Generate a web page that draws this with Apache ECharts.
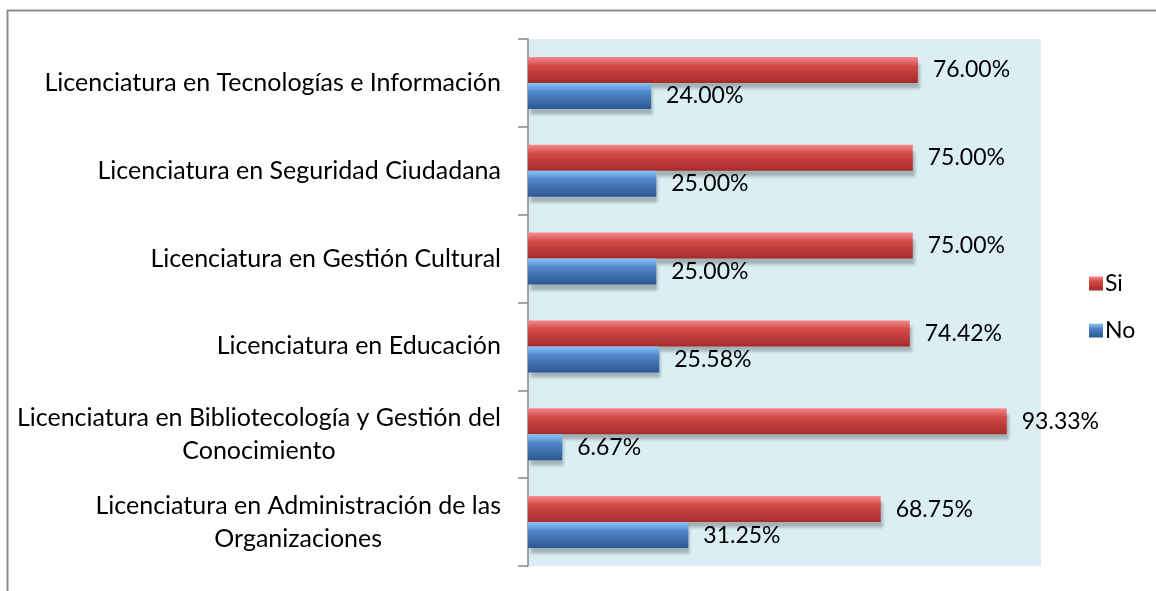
<!DOCTYPE html>
<html><head><meta charset="utf-8">
<script src="https://cdn.jsdelivr.net/npm/echarts@6/dist/echarts.min.js"></script>
<style>html,body{margin:0;padding:0;background:#fff}#c{width:1156px;height:591px}</style>
</head><body><div id="c"></div>
<script>
const categories = [
  'Licenciatura en Administración de las\nOrganizaciones',
  'Licenciatura en Bibliotecología y Gestión del\nConocimiento',
  'Licenciatura en Educación',
  'Licenciatura en Gestión Cultural',
  'Licenciatura en Seguridad Ciudadana',
  'Licenciatura en Tecnologías e Información'
];
const siValues = [68.75, 93.33, 74.42, 75.00, 75.00, 76.00];
const noValues = [31.25, 6.67, 25.58, 25.00, 25.00, 24.00];
const seriesNames = ['Si', 'No'];

const FONT = 'Lato';
const chart = echarts.init(document.getElementById('c'));
const grad = (a, b, c) => new echarts.graphic.LinearGradient(0, 0, 0, 1, [
  {offset: 0, color: a}, {offset: 0.35, color: b}, {offset: 1, color: c}
]);
const labelCfg = {
  show: true, position: 'right', distance: 15, color: '#000',
  fontFamily: FONT, fontSize: 23,
  formatter: p => p.value.toFixed(2) + '%'
};
chart.setOption({
  animation: false,
  graphic: [{type: 'rect', shape: {x: 7.5, y: 10.5, width: 1300, height: 700},
    style: {fill: 'none', stroke: '#8c8c8c', lineWidth: 2}, z: 100}],
  grid: {left: 528, right: 115, top: 39, bottom: 25, show: true,
    backgroundColor: '#DAEEF3', borderWidth: 0},
  legend: {
    orient: 'vertical', left: 1084, top: 267, itemGap: 24,
    itemWidth: 14, itemHeight: 14, icon: 'rect',
    data: seriesNames,
    textStyle: {fontFamily: FONT, fontSize: 23, color: '#000', padding: [0, 0, 0, -3]}
  },
  xAxis: {type: 'value', min: 0, max: 100, show: false},
  yAxis: {
    type: 'category', data: categories,
    axisLine: {show: true, lineStyle: {color: '#868686', width: 1.5}},
    axisTick: {show: true, length: 10, lineStyle: {color: '#868686', width: 1.5}},
    axisLabel: {
      margin: 27, color: '#000', fontFamily: FONT, fontSize: 25, lineHeight: 33,
      formatter: v => v.split('\n').map(s => '{c|' + s + '}').join('\n'),
      rich: {c: {align: 'center', fontFamily: FONT, fontSize: 25, lineHeight: 33, color: '#000'}}
    }
  },
  series: [
    {name: 'Si', type: 'bar', data: siValues, barWidth: 26, barGap: '0%',
      itemStyle: {color: grad('#f58a8a', '#d44848', '#a52b2b'),
        shadowColor: 'rgba(0,0,0,0.25)', shadowOffsetX: 2, shadowOffsetY: 6, shadowBlur: 3},
      label: labelCfg},
    {name: 'No', type: 'bar', data: noValues, barWidth: 26, barGap: '0%',
      itemStyle: {color: grad('#8cc4f8', '#4f86cc', '#2c5891'),
        shadowColor: 'rgba(0,0,0,0.25)', shadowOffsetX: 2, shadowOffsetY: 6, shadowBlur: 3},
      label: labelCfg}
  ]
});
</script></body></html>
